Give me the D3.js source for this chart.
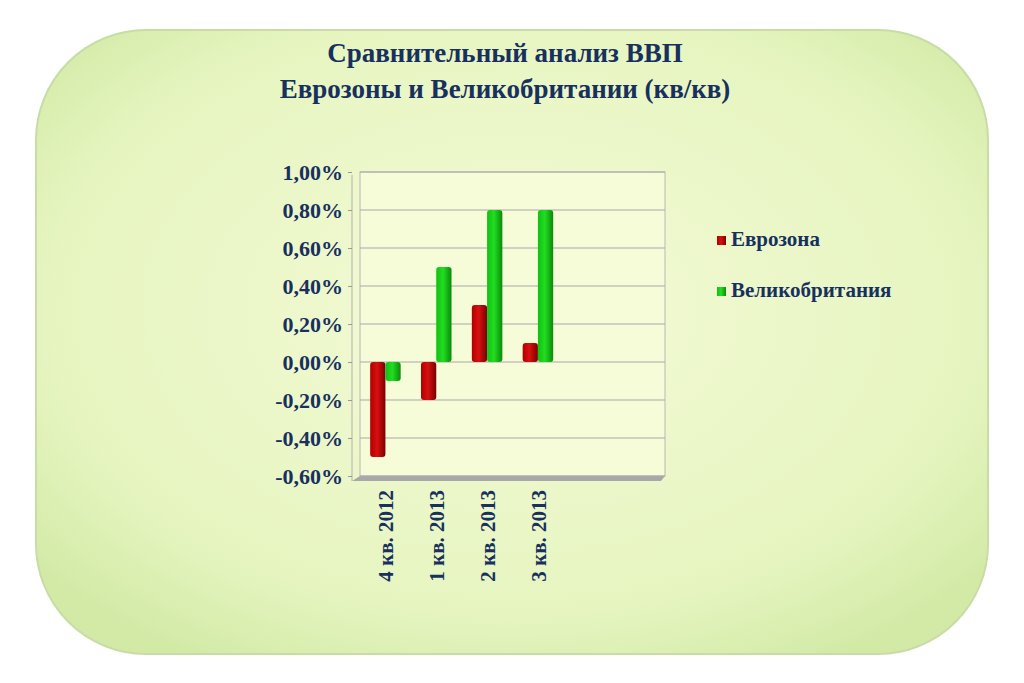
<!DOCTYPE html>
<html><head><meta charset="utf-8">
<script src="https://cdn.jsdelivr.net/npm/d3@7"></script>
<style>body{margin:0;background:#fff}</style>
</head><body>
<svg id="chart" width="1024" height="683"></svg>
<script>
// Data
const categories = ["4 кв. 2012", "1 кв. 2013", "2 кв. 2013", "3 кв. 2013", "", " "];
const eurozone = [-0.5, -0.2, 0.3, 0.1];
const uk = [-0.1, 0.5, 0.8, 0.8];
const seriesNames = ["Еврозона", "Великобритания"];
const yTicks = [-0.6, -0.4, -0.2, 0, 0.2, 0.4, 0.6, 0.8, 1.0];

const svg = d3.select("#chart");
const defs = svg.append("defs");

// Card background
const bg = defs.append("radialGradient").attr("id", "bg").attr("cx", "50%").attr("cy", "45%").attr("r", "65%");
bg.append("stop").attr("offset", "0%").attr("stop-color", "#f4fad6");
bg.append("stop").attr("offset", "75%").attr("stop-color", "#e6f5c0");
bg.append("stop").attr("offset", "100%").attr("stop-color", "#d2eaa6");
svg.append("rect")
    .attr("x", 36).attr("y", 30).attr("width", 952).attr("height", 624)
    .attr("rx", 110).attr("ry", 110)
    .attr("fill", "url(#bg)")
    .attr("stroke", "#c9dca6").attr("stroke-width", 2);

// Bar gradients (cylinder-ish look)
function barGrad(id, light, mid, dark) {
    const g = defs.append("linearGradient").attr("id", id).attr("x1", "0").attr("x2", "1");
    g.append("stop").attr("offset", "0%").attr("stop-color", mid);
    g.append("stop").attr("offset", "45%").attr("stop-color", light);
    g.append("stop").attr("offset", "100%").attr("stop-color", dark);
}
barGrad("red", "#d81010", "#b00000", "#7a0000");
barGrad("green", "#22dd22", "#10c010", "#0a8a0a");

const textColor = "#17305e";
const serif = "Liberation Serif, Times New Roman, serif";

// Title
const title = svg.append("text")
    .attr("text-anchor", "middle")
    .attr("font-family", serif)
    .attr("font-weight", "bold").attr("font-size", 27).attr("fill", textColor);
title.append("tspan").attr("x", 505).attr("y", 62).text("Сравнительный анализ ВВП");
title.append("tspan").attr("x", 505).attr("y", 98).text("Еврозоны и Великобритании (кв/кв)");

// Scales
const plot = { left: 360, right: 665, top: 172, bottom: 476 };
const y = d3.scaleLinear().domain([-0.6, 1.0]).range([plot.bottom, plot.top]);
const x = d3.scaleBand().domain(categories).range([plot.left, plot.right]).paddingInner(0.4).paddingOuter(0.2);
const xs = d3.scaleBand().domain([0, 1]).range([0, x.bandwidth()]);

const g = svg.append("g");

// Floor / walls
g.append("rect").attr("x", plot.left).attr("y", plot.top)
    .attr("width", plot.right - plot.left).attr("height", plot.bottom - plot.top)
    .attr("fill", "#f6fbd8").attr("stroke", "#b8b8b8");
g.append("path")
    .attr("d", `M${plot.left - 8},${plot.bottom + 5} L${plot.left},${plot.bottom} L${plot.right},${plot.bottom} L${plot.right - 4},${plot.bottom + 5} Z`)
    .attr("fill", "#a8a8a8");
g.append("line").attr("x1", plot.left - 8).attr("x2", plot.left - 8)
    .attr("y1", plot.top + 3).attr("y2", plot.bottom + 5).attr("stroke", "#b0b0b0");

// Gridlines
g.selectAll(".grid").data(yTicks).join("line")
    .attr("x1", plot.left).attr("x2", plot.right)
    .attr("y1", d => y(d)).attr("y2", d => y(d))
    .attr("stroke", "#a9a9a9").attr("stroke-width", 1);

// Y axis labels
g.append("g")
    .attr("transform", `translate(${plot.left - 8},0)`)
    .call(d3.axisLeft(y).tickValues(yTicks).tickSize(4)
        .tickFormat(d => d3.format(".2f")(d).replace(".", ",").replace("−", "-") + "%"))
    .call(a => a.select(".domain").remove())
    .call(a => a.selectAll("line").attr("stroke", "#999"))
    .call(a => a.selectAll("text")
        .attr("font-family", serif).attr("font-weight", "bold")
        .attr("font-size", 22).attr("fill", textColor).attr("dx", -2));

// Bars
const data = [eurozone, uk];
const fills = ["url(#red)", "url(#green)"];
data.forEach((series, si) => {
    g.selectAll(".bar" + si).data(series).join("rect")
        .attr("x", (d, i) => x(categories[i]) + xs(si))
        .attr("width", xs.bandwidth())
        .attr("y", d => Math.min(y(d), y(0)))
        .attr("height", d => Math.abs(y(d) - y(0)))
        .attr("rx", 3)
        .attr("fill", fills[si]);
});

// X labels (rotated)
g.selectAll(".xl").data(categories.slice(0, 4)).join("text")
    .attr("transform", d => `translate(${x(d) + x.bandwidth() / 2 + 8},490) rotate(-90)`)
    .attr("text-anchor", "end")
    .attr("font-family", serif).attr("font-weight", "bold")
    .attr("font-size", 21).attr("fill", textColor)
    .text(d => d);

// Legend
const legend = svg.append("g").attr("transform", "translate(717,246)");
seriesNames.forEach((name, i) => {
    const row = legend.append("g").attr("transform", `translate(0,${i * 51})`);
    row.append("rect").attr("x", 0).attr("y", -10).attr("width", 9).attr("height", 9)
        .attr("fill", fills[i]);
    row.append("text").attr("x", 14).attr("y", 0)
        .attr("font-family", serif).attr("font-weight", "bold")
        .attr("font-size", 21).attr("fill", textColor).text(name);
});
</script>
</body></html>
